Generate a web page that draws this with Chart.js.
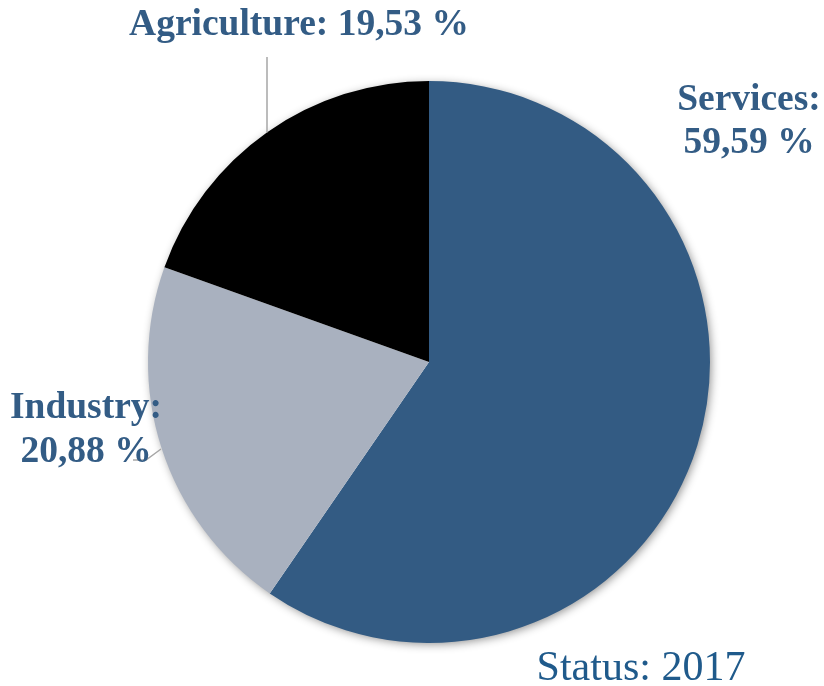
<!DOCTYPE html>
<html>
<head>
<meta charset="utf-8">
<script src="https://cdn.jsdelivr.net/npm/chart.js@4"></script>
<style>
  html, body { margin: 0; padding: 0; background: #ffffff; }
  #wrap { width: 824px; height: 686px; }
</style>
</head>
<body>
<div id="wrap"><canvas id="c" width="824" height="686"></canvas></div>
<script>
// Employment by sector, share in percent
const sectors = ['Services', 'Industry', 'Agriculture'];
const shares = [59.59, 20.88, 19.53];
const sectorColors = ['#335b83', '#a9b1bf', '#000000'];
const statusText = 'Status: 2017';

const fmt = v => v.toFixed(2).replace('.', ',') + ' %';

// Soft shadow behind the whole pie
const pieShadow = {
  id: 'pieShadow',
  beforeDatasetsDraw(chart) {
    const arc = chart.getDatasetMeta(0).data[0];
    if (!arc) return;
    const ctx = chart.ctx;
    ctx.save();
    ctx.shadowColor = 'rgba(0,0,0,0.45)';
    ctx.shadowBlur = 10;
    ctx.shadowOffsetX = 2;
    ctx.shadowOffsetY = 2;
    ctx.fillStyle = '#ffffff';
    ctx.beginPath();
    ctx.arc(arc.x, arc.y, arc.outerRadius - 1, 0, Math.PI * 2);
    ctx.fill();
    ctx.restore();
  }
};

// Leader lines and sector labels
const sectorLabels = {
  id: 'sectorLabels',
  afterDatasetsDraw(chart) {
    const ctx = chart.ctx;
    const meta = chart.getDatasetMeta(0);
    const cx = meta.data[0].x, cy = meta.data[0].y, r = meta.data[0].outerRadius;
    ctx.save();
    // leader lines
    ctx.strokeStyle = '#a6a6a6';
    ctx.lineWidth = 1.5;
    const ax = 267;
    const ay = cy - Math.sqrt(r * r - (ax - cx) * (ax - cx));
    ctx.beginPath();
    ctx.moveTo(ax, 57);
    ctx.lineTo(ax, ay);
    ctx.stroke();
    ctx.beginPath();
    ctx.moveTo(133, 460);
    ctx.lineTo(146, 460);
    ctx.lineTo(161, 449);
    ctx.stroke();

    ctx.fillStyle = '#335c85';
    ctx.textAlign = 'center';
    ctx.textBaseline = 'alphabetic';
    ctx.font = 'bold 37.5px "Liberation Serif", "Times New Roman", serif';
    ctx.fillText(sectors[2] + ': ' + fmt(shares[2]), 299, 35);
    ctx.fillText(sectors[0] + ':', 749, 110);
    ctx.fillText(fmt(shares[0]), 749, 153);
    ctx.fillText(sectors[1] + ':', 86, 418);
    ctx.fillText(fmt(shares[1]), 86, 462);

    ctx.fillStyle = '#1f5a8b';
    ctx.font = '42px "Liberation Serif", "Times New Roman", serif';
    ctx.fillText(statusText, 641, 680);
    ctx.restore();
  }
};

new Chart(document.getElementById('c'), {
  type: 'pie',
  data: {
    labels: sectors,
    datasets: [{
      data: shares,
      backgroundColor: sectorColors,
      borderWidth: 0
    }]
  },
  options: {
    responsive: false,
    animation: false,
    layout: { padding: { left: 148, right: 114, top: 81, bottom: 43 } },
    plugins: {
      legend: { display: false },
      tooltip: { enabled: false }
    }
  },
  plugins: [pieShadow, sectorLabels]
});
</script>
</body>
</html>
